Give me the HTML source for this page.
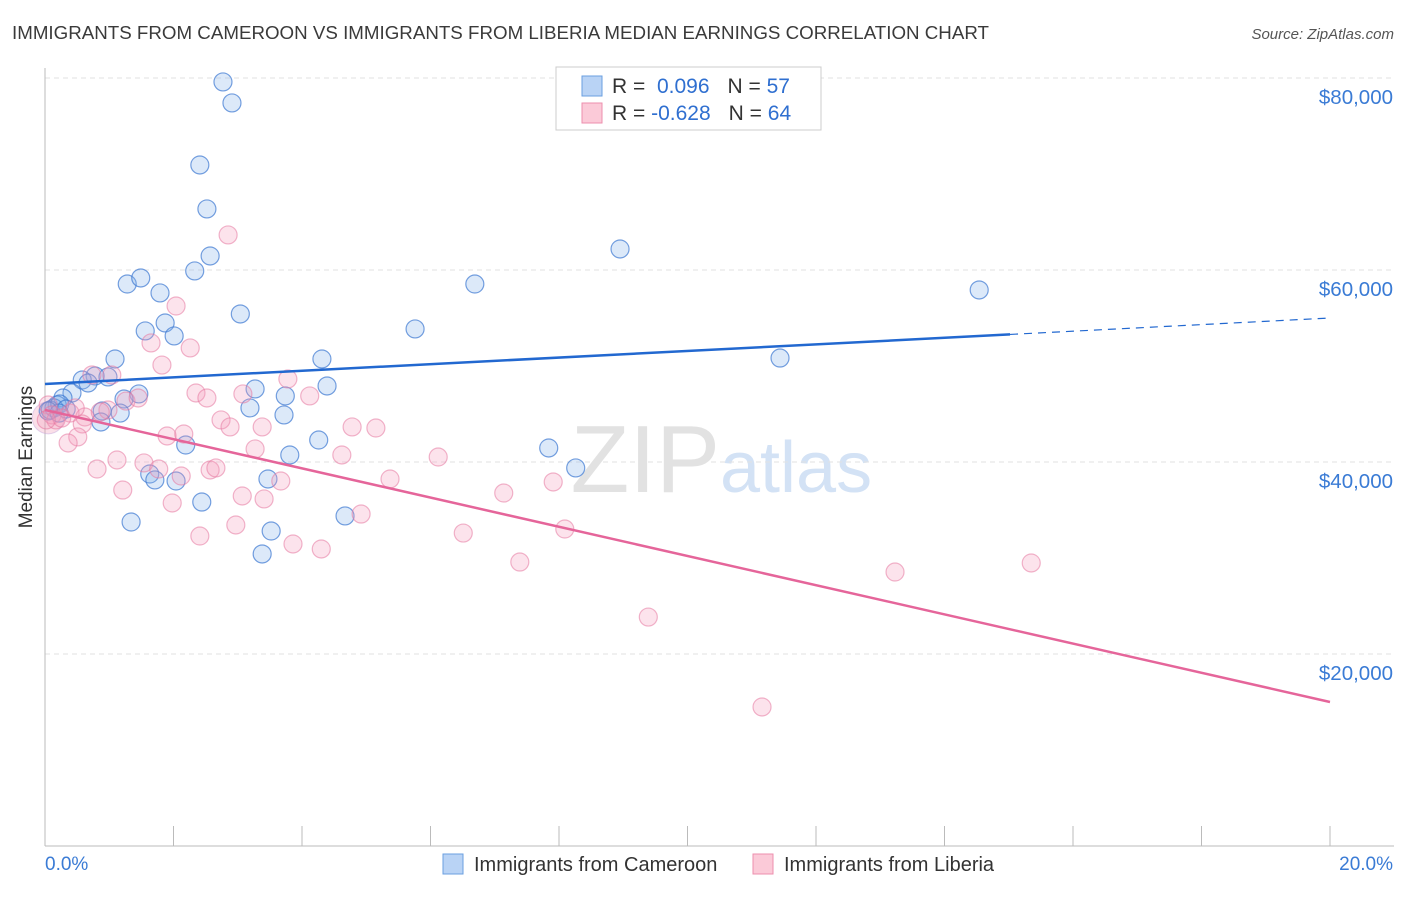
<!DOCTYPE html>
<html><head><meta charset="utf-8"><style>
body{margin:0;background:#fff;font-family:"Liberation Sans",sans-serif;}
svg text{font-family:"Liberation Sans",sans-serif;}
</style></head><body>
<svg id="chart" width="1406" height="892">
<text x="12" y="39" font-size="18" fill="#3a3a3a" textLength="977" lengthAdjust="spacingAndGlyphs">IMMIGRANTS FROM CAMEROON VS IMMIGRANTS FROM LIBERIA MEDIAN EARNINGS CORRELATION CHART</text>
<text x="1394" y="39" font-size="15" fill="#555" font-style="italic" text-anchor="end">Source: ZipAtlas.com</text>
<text x="720" y="492" font-size="96" fill="#e2e2e2" font-family="Liberation Serif" text-anchor="end">ZIP</text>
<text x="720" y="492" font-size="72" fill="#d3e2f5">atlas</text>
<g id="grid"></g>
<line x1="45" y1="68" x2="45" y2="846" stroke="#bbb"/>
<line x1="45" y1="846" x2="1394" y2="846" stroke="#bbb"/>
<g id="xticks"></g>
<text x="32" y="457" font-size="19" fill="#333" text-anchor="middle" transform="rotate(-90 32 457)">Median Earnings</text>
<text x="45" y="870" font-size="19" fill="#3a7bd5">0.0%</text>
<text x="1393" y="870" font-size="19" fill="#3a7bd5" text-anchor="end">20.0%</text>
<g id="points"></g>
<g id="lines"></g>
<g>
<rect x="556" y="67" width="265" height="63" fill="#fff" stroke="#ccc"/>
<rect x="582" y="76" width="20" height="20" fill="#b9d3f5" stroke="#6a9fe0"/>
<rect x="582" y="103" width="20" height="20" fill="#fbcad8" stroke="#ec8fae"/>
<text x="612" y="93" font-size="21" fill="#333">R = <tspan fill="#2f6fd0">&#160;0.096</tspan><tspan dx="18">N = </tspan><tspan fill="#2f6fd0">57</tspan></text>
<text x="612" y="120" font-size="21" fill="#333">R = <tspan fill="#2f6fd0">-0.628</tspan><tspan dx="18">N = </tspan><tspan fill="#2f6fd0">64</tspan></text>
</g>
<g>
<rect x="443" y="854" width="20" height="20" fill="#b9d3f5" stroke="#6a9fe0"/>
<text x="474" y="871" font-size="20" fill="#333">Immigrants from Cameroon</text>
<rect x="753" y="854" width="20" height="20" fill="#fbcad8" stroke="#ec8fae"/>
<text x="784" y="871" font-size="20" fill="#333">Immigrants from Liberia</text>
</g>
</svg>
<script>
const yTicks=[20000,40000,60000,80000];
const yTickLabels=["$20,000","$40,000","$60,000","$80,000"];
const blueX=[2.77,2.91,2.41,2.52,2.57,2.33,1.28,1.49,1.79,3.04,6.69,8.95,14.54,1.87,1.56,2.01,5.76,1.09,4.31,11.44,0.78,0.58,0.67,0.98,1.46,1.23,3.27,4.39,3.74,0.42,0.28,0.19,0.14,0.08,0.89,1.17,3.19,3.72,0.87,4.26,2.19,3.81,7.84,8.26,1.63,1.71,2.04,3.47,2.44,1.34,3.52,3.38,4.67,0.23,0.05,0.33,0.22];
const blueY=[79590,77400,70940,66360,61460,59900,58540,59170,57610,55420,58540,62190,57920,54480,53650,53130,53860,50730,50730,50830,48960,48540,48230,48860,47090,46560,47610,47920,46880,47190,46670,45940,45630,45420,45310,45100,45630,44900,44170,42290,41770,40730,41460,39380,38750,38130,38020,38230,35830,33750,32810,30420,34380,46040,45310,45520,45100];
const pinkX=[2.85,2.04,1.65,2.26,1.82,0.73,1.04,3.78,2.35,2.52,3.08,4.12,1.26,1.45,0.98,0.39,0.62,2.74,2.88,3.38,0.58,0.51,0.36,1.90,2.16,3.27,4.78,5.15,4.62,6.12,1.12,0.81,1.54,1.77,2.12,2.57,2.66,5.37,7.14,7.91,1.21,3.07,3.41,1.98,3.67,2.97,2.41,3.86,4.30,4.92,6.51,8.09,7.39,9.39,13.23,15.35,11.16,0.05,0.11,0.17,0.26,0.02,0.47,0.86];
const pinkY=[63650,56250,52400,51880,50100,49060,49060,48650,47190,46670,47090,46880,46350,46670,45420,45100,44690,44380,43650,43650,43960,42610,41980,42710,42920,41360,43650,43540,40730,40520,40210,39270,39900,39270,38540,39170,39380,38230,36770,37920,37080,36460,36150,35730,38020,33440,32290,31460,30940,34580,32600,33020,29580,23850,28540,29480,14480,45940,44900,44380,44580,44380,45630,45210];
const blueTrend=[48130,55000];
const blueSolidEnd=15.02;
const pinkTrend=[45420,15000];
const xTicks=[0,2,4,6,8,10,12,14,16,18,20];
const NS="http://www.w3.org/2000/svg";
const sx=v=>45+v/20*1285;
const sy=v=>846-v/20000*192;
function mk(tag,attrs,parent){const e=document.createElementNS(NS,tag);for(const k in attrs)e.setAttribute(k,attrs[k]);parent.appendChild(e);return e;}
const grid=document.getElementById('grid');
yTicks.forEach((t,i)=>{
 const l=mk('line',{x1:45,x2:1394,y1:sy(t),y2:sy(t),stroke:'#e2e2e2','stroke-dasharray':'5,4'},grid);
 
 
 const tx=mk('text',{x:1393,y:sy(t)+26,'font-size':20.5,fill:'#3a7bd5','text-anchor':'end'},grid);
 tx.textContent=yTickLabels[i];
 
 
});
const xt=document.getElementById('xticks');
xTicks.forEach(t=>{
 const l=mk('line',{x1:sx(t),x2:sx(t),y1:826,y2:846,stroke:'#bbb'},xt);
 
 
});
const pts=document.getElementById('points');
const big=mk('circle',{cx:sx(0.05),cy:sy(44600),r:16,fill:'rgba(240,150,180,0.3)',stroke:'rgba(200,170,220,0.5)'},pts);


blueX.forEach((x,i)=>{
 const c=mk('circle',{cx:sx(x),cy:sy(blueY[i]),r:9,fill:'rgba(130,175,235,0.28)',stroke:'rgba(60,120,210,0.7)','stroke-width':1.2},pts);
 
 
});
pinkX.forEach((x,i)=>{
 const c=mk('circle',{cx:sx(x),cy:sy(pinkY[i]),r:9,fill:'rgba(245,155,185,0.28)',stroke:'rgba(230,120,160,0.55)','stroke-width':1.2},pts);
 
 
});
const ln=document.getElementById('lines');
const bAt=x=>blueTrend[0]+(blueTrend[1]-blueTrend[0])*x/20;
let a=mk('line',{x1:sx(0),y1:sy(blueTrend[0]),x2:sx(blueSolidEnd),y2:sy(bAt(blueSolidEnd)),stroke:'#2268d0','stroke-width':2.5},ln);


let b=mk('line',{x1:sx(blueSolidEnd),y1:sy(bAt(blueSolidEnd)),x2:sx(20),y2:sy(blueTrend[1]),stroke:'#2268d0','stroke-width':1.2,'stroke-dasharray':'8,6'},ln);


let c=mk('line',{x1:sx(0),y1:sy(pinkTrend[0]),x2:sx(20),y2:sy(pinkTrend[1]),stroke:'#e5659a','stroke-width':2.5},ln);


</script>
</body></html>
